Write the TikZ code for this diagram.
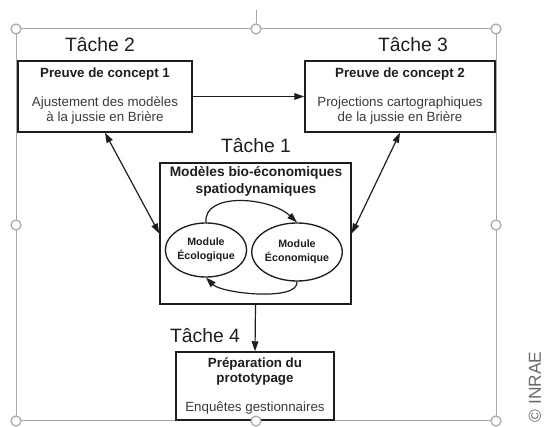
\documentclass[tikz,border=0pt]{standalone}
\usepackage{fontspec}
\setmainfont{Liberation Sans}
\definecolor{ink}{HTML}{1E1E1E}
\definecolor{bodytxt}{HTML}{3A3A3A}
\definecolor{handle}{HTML}{A8A8A8}
\definecolor{credit}{HTML}{6A6A6A}
\usepackage{tikz}
\usetikzlibrary{arrows.meta,positioning,shapes.geometric}
\tikzset{>={Triangle[length=7.5pt,width=5pt]},block/.style={draw=ink,line width=1.1pt,fill=white,align=center,inner sep=0pt,font=\fontsize{10}{11.5}\selectfont,text=bodytxt},arr/.style={->,draw=ink,line width=0.9pt},tache/.style={font=\fontsize{14.5}{16}\selectfont,text=ink}}

\begin{document}
\begin{tikzpicture}[x=0.75pt,y=-0.75pt,dbl/.style={<->,draw=ink,line width=0.9pt},module/.style={ellipse,draw=ink,line width=1pt,fill=white,align=center,inner sep=0pt,font=\bfseries\fontsize{8}{10.5}\selectfont,text=ink},grip/.style={circle,draw=handle,fill=white,line width=0.9pt,minimum size=7.5pt,inner sep=0pt}]
\useasboundingbox[fill=white] (0,0) rectangle (547,427);
% cadre de selection
\draw[handle,line width=0.75pt] (256,10)--(256,24);
\draw[handle,line width=0.75pt] (16,29) rectangle (496,421);
% taches
\node[tache] (t2) at (100,45) {Tâche 2};
\node[tache] (t3) at (413,45) {Tâche 3};
\node[tache] (t1) at (256,146) {Tâche 1};
\node[tache] (t4) at (205,336) {Tâche 4};
\node[block,minimum width=130.5pt,minimum height=53.25pt] (poc1) at (105,96.5) {\textbf{\color{ink}Preuve de concept 1}\\[10pt]Ajustement des modèles\\à la jussie en Brière};
\node[block,minimum width=142.5pt,minimum height=53.25pt] (poc2) at (400,96.5) {\textbf{\color{ink}Preuve de concept 2}\\[10pt]Projections cartographiques\\de la jussie en Brière};
\node[block,minimum width=143.25pt,minimum height=105.75pt] (bio) at (255.5,233.5) {};
\node[font=\bfseries\fontsize{10.3}{12.75}\selectfont,text=ink,align=center] (biot) at (256,181) {Modèles bio-économiques\\spatiodynamiques};
\node[module,minimum width=51pt,minimum height=40.5pt] (eco) at (206,250) {Module\\Écologique};
\node[module,minimum width=57pt,minimum height=43.5pt] (econ) at (297,252) {Module\\Économique};
\node[block,minimum width=118.5pt,minimum height=51pt] (prep) at (255,386) {\textbf{\color{ink}Préparation du}\\\textbf{\color{ink}prototypage}\\[10pt]Enquêtes gestionnaires};
% liens
\draw[arr] (poc1.east)--(poc2.west);
\draw[dbl] (poc1.south)--(bio.west);
\draw[dbl] (poc2.south)--(bio.east);
\draw[arr] (bio.south)--(prep.north);
\draw[arr] (eco.north) .. controls +(-3,-30) and +(-28,-26) .. (econ.north);
\draw[arr] (econ.south) .. controls +(2,20) and +(16,16) .. (eco.south);
% poignees
\foreach \x/\y/\id in {16/29/a,256/29/b,496/29/c,16/225/d,496/225/e,16/421/f,256/421/g,496/421/h}{\node[grip] (g\id) at (\x,\y) {};}
\node[rotate=90,font=\fontsize{13}{13}\selectfont,text=credit] (copy) at (535,387) {© INRAE};
\end{tikzpicture}
\end{document}
